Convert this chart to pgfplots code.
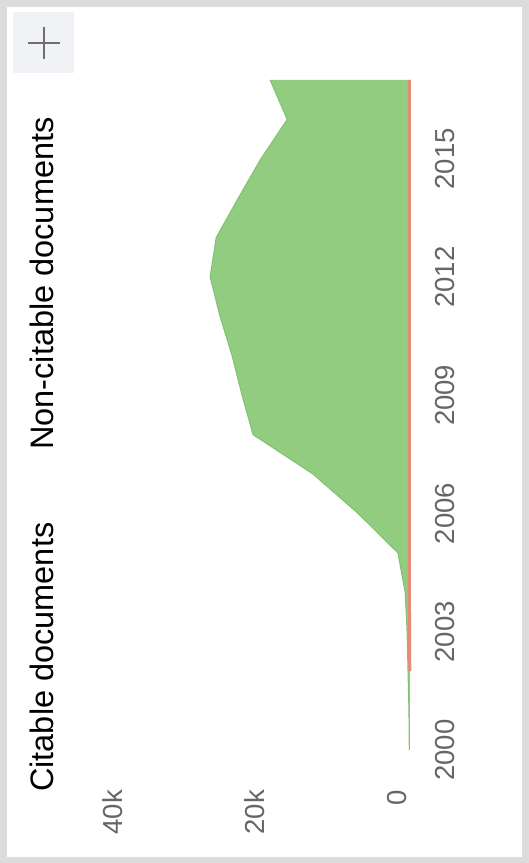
\documentclass[border=0pt]{standalone}
\usepackage{fontspec}
\setmainfont{Liberation Sans}
\usepackage{pgfplots}
\usepackage{pgfplotstable}
\pgfplotsset{compat=1.18}
\usepgfplotslibrary{fillbetween}
\definecolor{citgreen}{RGB}{146,204,128}
\definecolor{citedge}{RGB}{128,194,112}
\definecolor{noncitred}{RGB}{232,140,120}
\definecolor{framegray}{RGB}{220,220,220}
\definecolor{btngray}{RGB}{241,242,245}
\definecolor{tickgray}{RGB}{102,102,102}
\definecolor{plusgray}{RGB}{110,110,110}

\pgfplotstableread{
year cit noncit
2000 100 0
2001 150 0
2002 250 30
2003 350 60
2004 600 80
2005 1600 100
2006 7200 100
2007 13550 100
2008 22000 100
2009 23550 100
2010 24950 100
2011 26650 100
2012 28050 100
2013 27200 100
2014 24100 100
2015 20900 100
2016 17200 100
2017 19600 100
}\docs

\begin{document}
\begin{tikzpicture}[x=1pt,y=1pt]
\fill[framegray] (0,0) rectangle (529,863);
\fill[white] (7,6) rectangle (522,856);
\fill[btngray] (13,790) rectangle (74,851);
\draw[plusgray, line width=2pt] (28,820) -- (60,820);
\draw[plusgray, line width=2pt] (44,804) -- (44,836);
\node[rotate=90, anchor=base west, inner sep=0pt, font=\fontsize{32.5}{36}\selectfont] at (53,71) {Citable documents};
\node[rotate=90, anchor=base west, inner sep=0pt, font=\fontsize{32.5}{36}\selectfont] at (53,413) {Non-citable documents};
\begin{axis}[
  at={(126pt,113pt)}, anchor=south west,
  scale only axis, width=284pt, height=670pt,
  x dir=reverse, xmin=0, xmax=40000, ymin=2000, ymax=2017,
  axis line style={draw=none}, major tick length=0pt,
  scaled x ticks=false, scaled y ticks=false,
  xtick={0,20000,40000}, xticklabels={0,20k,40k},
  ytick={2000,2003,2006,2009,2012,2015},
  yticklabels={2000,2003,2006,2009,2012,2015},
  yticklabel pos=right,
  tick label style={font=\fontsize{27.5}{30}\selectfont, text=tickgray, inner sep=0pt},
  xticklabel style={xshift=-13pt, yshift=-40pt, rotate=90, anchor=east},
  yticklabel style={xshift=35pt, rotate=90, anchor=center},
  clip=false,
  fill between/on layer=main,
]
\addplot[name path=tot, draw=none] table[x expr=\thisrow{cit}+\thisrow{noncit}, y=year] {\docs};
\addplot[name path=nc, draw=none] table[x=noncit, y=year] {\docs};
\addplot[citgreen] fill between[of=tot and nc, reverse=true];
\addplot[citedge, line width=1pt] table[x expr=\thisrow{cit}+\thisrow{noncit}, y=year] {\docs};
\addplot[noncitred, line width=3pt, skip coords between index={0}{2}] table[x=noncit, y=year] {\docs};
\end{axis}
\end{tikzpicture}
\end{document}
